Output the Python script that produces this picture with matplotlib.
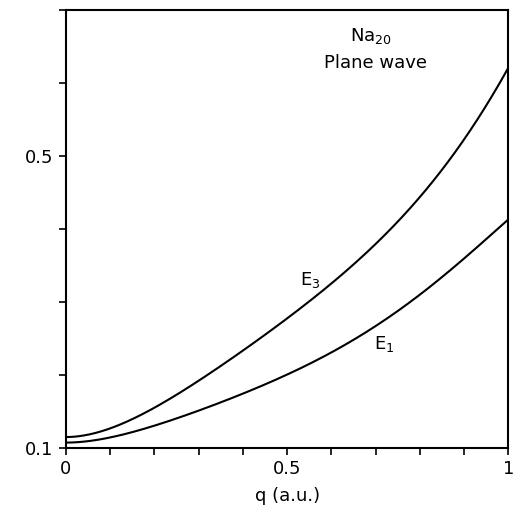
import numpy as np
import matplotlib
matplotlib.use("Agg")
import matplotlib.pyplot as plt
from matplotlib.ticker import MultipleLocator

# values
q_e3 = [0.0, 0.031, 0.1, 0.211, 0.301, 0.413, 0.526, 0.638, 0.706, 0.751, 0.78, 0.856, 0.93, 1.0]
e3 = [0.115, 0.117, 0.127, 0.156, 0.192, 0.241, 0.289, 0.348, 0.378, 0.412, 0.430, 0.485, 0.553, 0.620]

q_e1 = [0.0, 0.031, 0.1, 0.211, 0.324, 0.369, 0.526, 0.638, 0.751, 0.79, 0.856, 0.93, 1.0]
e1 = [0.107, 0.108, 0.115, 0.132, 0.156, 0.166, 0.210, 0.244, 0.285, 0.305, 0.340, 0.375, 0.413]

y_labels = {0.1: "0.1", 0.5: "0.5"}
x_labels = {0.0: "0", 0.5: "0.5", 1.0: "1"}


def smooth(xs, ys, n=300):
    # least squares fit with flat start (no linear term)
    xs = np.asarray(xs, float)
    ys = np.asarray(ys, float)
    powers = [0, 2, 3, 4, 5]
    A = np.column_stack([xs ** p for p in powers])
    coef, *_ = np.linalg.lstsq(A, ys, rcond=None)
    xx = np.linspace(xs[0], xs[-1], n)
    yy = sum(c * xx ** p for c, p in zip(coef, powers))
    return xx, yy


fig = plt.figure(figsize=(5.14, 5.13), dpi=100)
ax = fig.add_axes([0.128, 0.127, 0.861, 0.853])

for qs, vals in [(q_e3, e3), (q_e1, e1)]:
    xx, yy = smooth(qs, vals)
    ax.plot(xx, yy, color="black", lw=1.5)

ax.set_xlim(0, 1)
ax.set_ylim(0.1, 0.7)

ax.xaxis.set_major_locator(MultipleLocator(0.1))
ax.yaxis.set_major_locator(MultipleLocator(0.1))
ax.set_xticklabels([x_labels.get(round(t, 2), "") for t in ax.get_xticks()])
ax.set_yticklabels([y_labels.get(round(t, 2), "") for t in ax.get_yticks()])

ax.tick_params(direction="out", length=5, width=1.2, labelsize=13, pad=4)
for s in ax.spines.values():
    s.set_linewidth(1.5)

ax.set_xlabel("q (a.u.)", fontsize=13, labelpad=6)

ax.text(0.69, 0.942, r"Na$_{20}$", transform=ax.transAxes, ha="center", va="center", fontsize=13)
ax.text(0.70, 0.88, "Plane wave", transform=ax.transAxes, ha="center", va="center", fontsize=13)
ax.text(0.553, 0.384, r"E$_3$", transform=ax.transAxes, ha="center", va="center", fontsize=13)
ax.text(0.719, 0.237, r"E$_1$", transform=ax.transAxes, ha="center", va="center", fontsize=13)

fig.savefig("out.png", dpi=100)
